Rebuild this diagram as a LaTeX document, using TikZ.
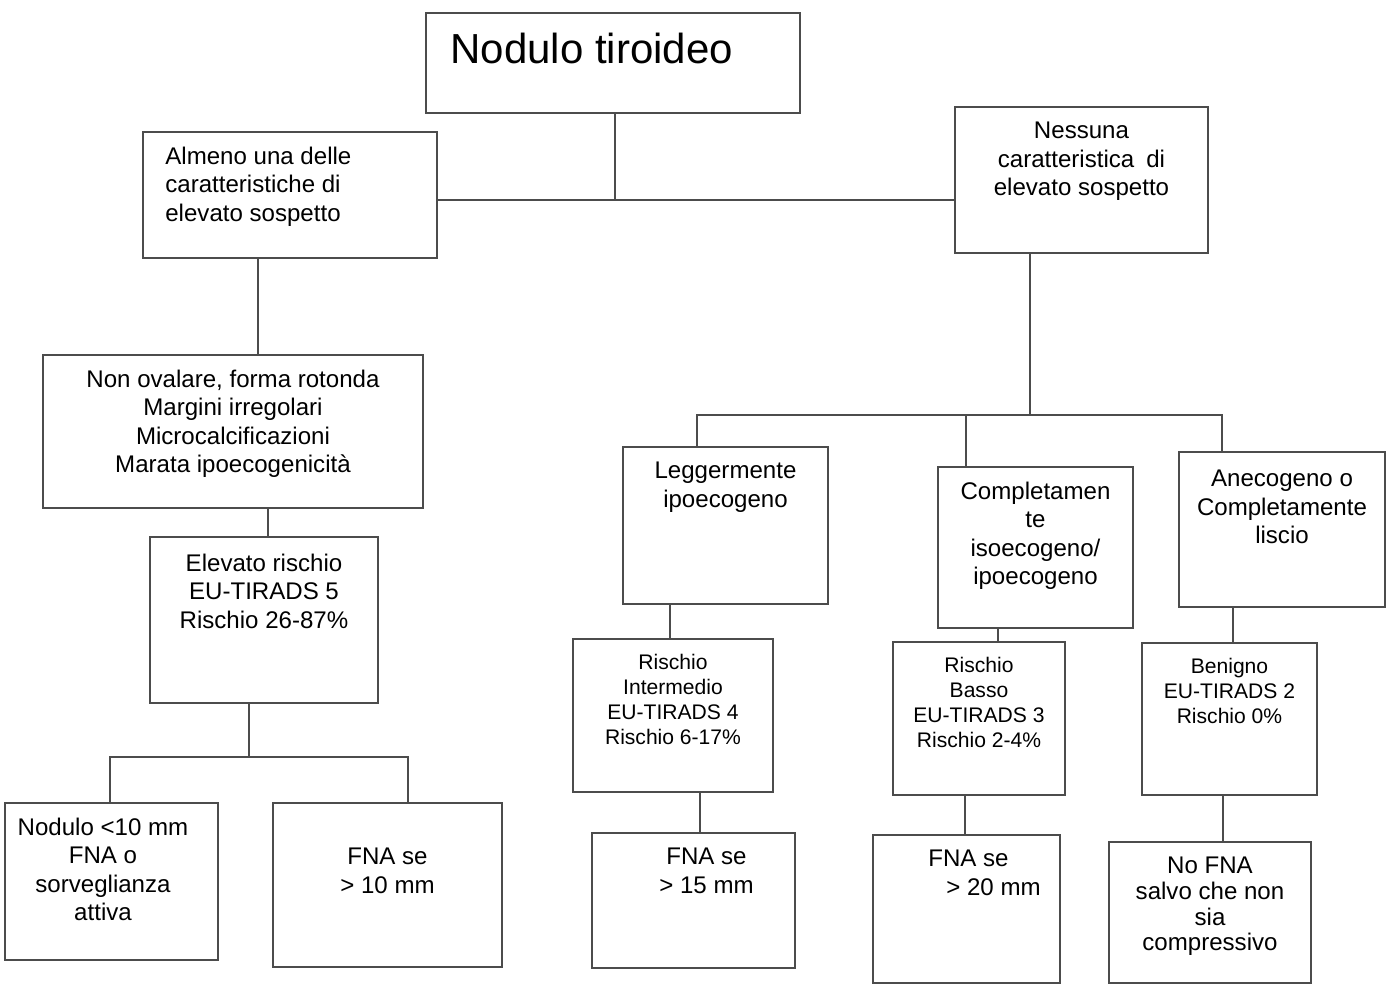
\documentclass[tikz,border=0pt]{standalone}
\usepackage{fontspec}
\setmainfont{Liberation Sans}
\tikzset{
    box/.style={draw=black!70, line width=1.5pt, inner sep=0pt, outer sep=0pt},
    link/.style={draw=black!70, line width=1.5pt},
    lab/.style={anchor=north, align=center, inner sep=0pt, yshift=-3mm, font=\fontsize{13.7}{16}\selectfont},
    labs/.style={lab, font=\fontsize{12}{14.2}\selectfont},
    titlelab/.style={anchor=west, inner sep=0pt, xshift=4.8mm, yshift=2.9mm, font=\fontsize{23.9}{28}\selectfont},
}

\begin{document}
\begin{tikzpicture}[x=0.2mm,y=-0.2mm]
    \useasboundingbox (0,0) rectangle (1388,988);
    % top level
    \node[box, minimum width=74.8mm, minimum height=20mm, label={[titlelab]west:Nodulo tiroideo}] (nod) at (613,63) {};
    \node[box, minimum width=58.8mm, minimum height=25.2mm, label={[lab, anchor=north west, align=left, xshift=4.4mm]north west:{Almeno una delle\\caratteristiche di\\elevato sospetto}}] (alm) at (290,195) {};
    \node[box, minimum width=50.6mm, minimum height=29.2mm, label={[lab]north:{Nessuna\\caratteristica\enspace di\\elevato sospetto}}] (nes) at (1081.5,180) {};
    % left branch
    \node[box, minimum width=76mm, minimum height=30.6mm, label={[lab]north:{Non ovalare, forma rotonda\\Margini irregolari\\Microcalcificazioni\\Marata ipoecogenicità}}] (nonov) at (233,431.5) {};
    \node[box, minimum width=45.6mm, minimum height=33.2mm, label={[lab, yshift=-0.4mm]north:{Elevato rischio\\EU-TIRADS 5\\Rischio 26-87\%}}] (tir5) at (264,620) {};
    \node[box, minimum width=42.6mm, minimum height=31.4mm, label={[lab, xshift=-1.7mm]north:{Nodulo <10 mm\\FNA o\\sorveglianza\\attiva}}] (sorv) at (111.5,881.5) {};
    \node[box, minimum width=45.8mm, minimum height=32.8mm, label={[lab, yshift=-6mm]north:{FNA se\\> 10 mm}}] (fna10) at (387.5,885) {};
    % right branch
    \node[box, minimum width=41mm, minimum height=31.4mm, label={[lab]north:{Leggermente\\ipoecogeno}}] (legg) at (725.5,525.5) {};
    \node[box, minimum width=39mm, minimum height=32.2mm, label={[lab]north:{Completamen\\te\\isoecogeno/\\ipoecogeno}}] (iso) at (1035.5,547.5) {};
    \node[box, minimum width=41.2mm, minimum height=31mm, label={[lab, yshift=-0.6mm]north:{Anecogeno o\\Completamente\\liscio}}] (anec) at (1282,529.5) {};
    \node[box, minimum width=40mm, minimum height=30.6mm, label={[labs]north:{Rischio\\Intermedio\\EU-TIRADS 4\\Rischio 6-17\%}}] (tir4) at (673,715.5) {};
    \node[box, minimum width=34.4mm, minimum height=30.6mm, label={[labs]north:{Rischio\\Basso\\EU-TIRADS 3\\Rischio 2-4\%}}] (tir3) at (979,718.5) {};
    \node[box, minimum width=35mm, minimum height=30.4mm, label={[labs]north:{Benigno\\EU-TIRADS 2\\Rischio 0\%}}] (tir2) at (1229.5,719) {};
    \node[box, minimum width=40.6mm, minimum height=27mm, label={[lab, xshift=2.6mm]north:{FNA se\\> 15 mm}}] (fna15) at (693.5,900.5) {};
    \node[box, minimum width=37.4mm, minimum height=29.6mm, label={[lab, anchor=north west, align=left, xshift=11mm]north west:{FNA se\\\hspace*{3.6mm}> 20 mm}}] (fna20) at (966.5,909) {};
    \node[box, minimum width=40.4mm, minimum height=28.2mm, label={[lab, font=\fontsize{13.7}{14.6}\selectfont]north:{No FNA\\salvo che non\\sia\\compressivo}}] (nofna) at (1210,912.5) {};
    % junctions
    \coordinate (j1) at (615,200);
    \coordinate (j2) at (249,757);
    \coordinate (j3) at (1030,415);
    % connectors
    \draw[link] (nod.south -| j1) -- (j1);
    \draw[link] (alm.east |- j1) -- (nes.west |- j1);
    \draw[link] (alm.south -| 258,0) -- (nonov.north -| 258,0);
    \draw[link] (nonov.south -| 268,0) -- (tir5.north -| 268,0);
    \draw[link] (tir5.south -| j2) -- (j2);
    \draw[link] (sorv.north -| 110,0) |- (j2) -| (fna10.north -| 408,0);
    \draw[link] (nes.south -| j3) -- (j3);
    \draw[link] (legg.north -| 697,0) |- (j3) -| (anec.north -| 1222,0);
    \draw[link] (iso.north -| 966,0) -- (966,0 |- j3);
    \draw[link] (legg.south -| 670,0) -- (tir4.north -| 670,0);
    \draw[link] (iso.south -| 998,0) -- (tir3.north -| 998,0);
    \draw[link] (anec.south -| 1233,0) -- (tir2.north -| 1233,0);
    \draw[link] (tir4.south -| 700,0) -- (fna15.north -| 700,0);
    \draw[link] (tir3.south -| 965,0) -- (fna20.north -| 965,0);
    \draw[link] (tir2.south -| 1223,0) -- (nofna.north -| 1223,0);
\end{tikzpicture}
\end{document}
